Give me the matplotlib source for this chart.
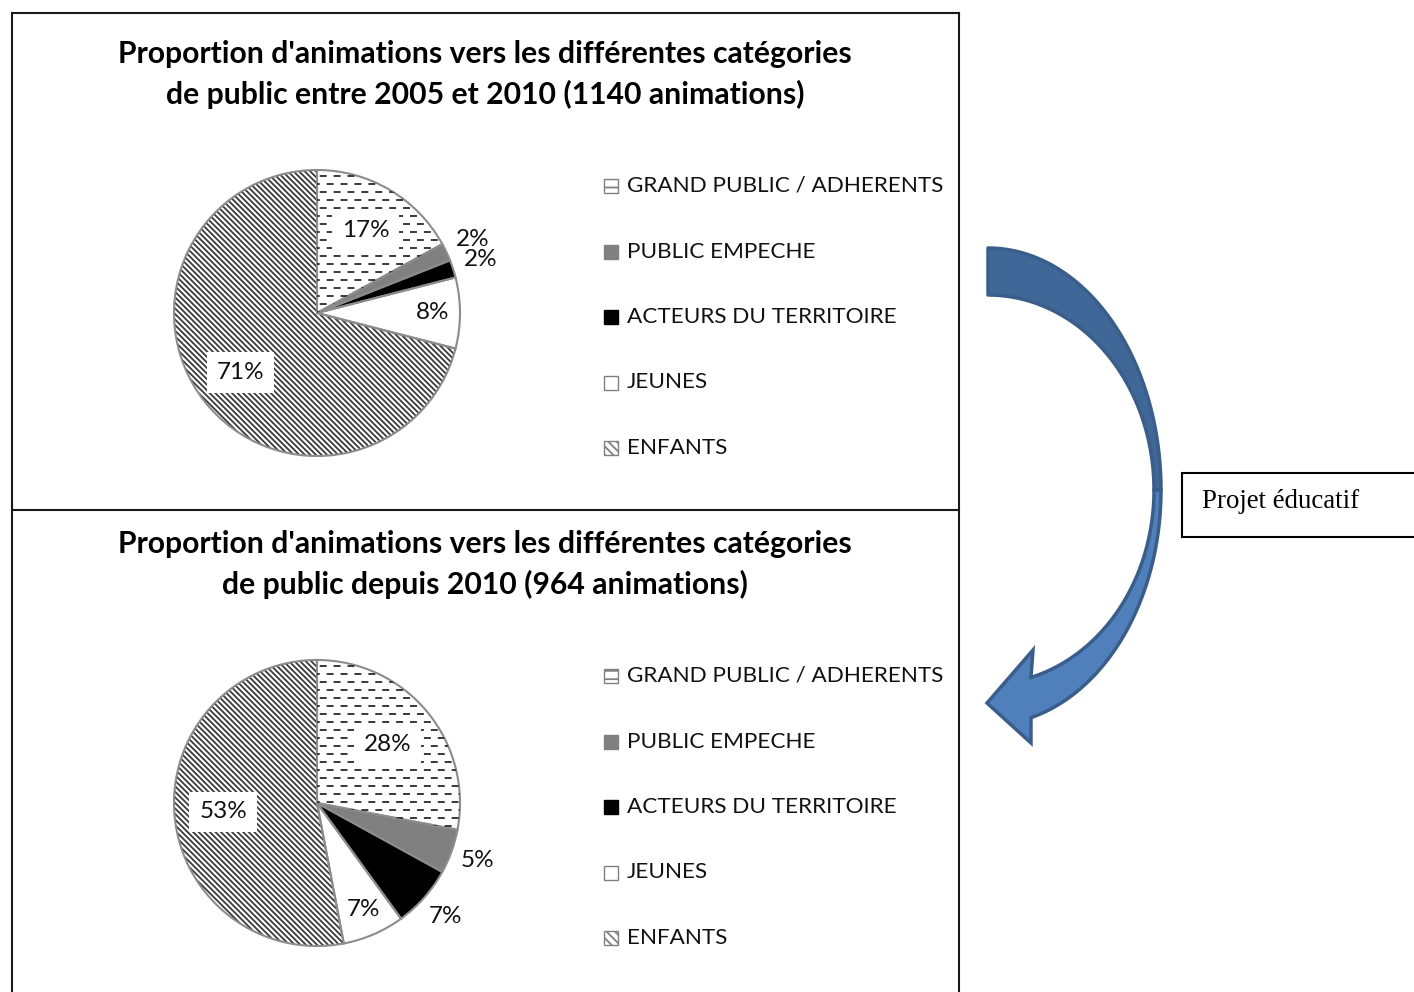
import numpy as np
import matplotlib
matplotlib.use("Agg")
import matplotlib.pyplot as plt
from matplotlib.patches import Rectangle, Polygon

# ---------------- data ----------------
categories = ["GRAND PUBLIC / ADHERENTS", "PUBLIC EMPECHE", "ACTEURS DU TERRITOIRE", "JEUNES", "ENFANTS"]
values_2005_2010 = [17, 2, 2, 8, 71]
values_2010 = [28, 5, 7, 7, 53]
title_top = ["Proportion d'animations vers les différentes catégories",
             "de public entre 2005 et 2010 (1140 animations)"]
title_bottom = ["Proportion d'animations vers les différentes catégories",
                "de public depuis 2010 (964 animations)"]
arrow_label = "Projet éducatif"

# ---------------- style ----------------
SANS = ["Lato", "DejaVu Sans"]
plt.rcParams["font.family"] = SANS
plt.rcParams["hatch.color"] = "#3a3a3a"
plt.rcParams["hatch.linewidth"] = 1.3
plt.rcParams["lines.scale_dashes"] = False

W, H = 1414, 992
fig = plt.figure(figsize=(W / 100, H / 100), dpi=100)

overlay = fig.add_axes([0, 0, 1, 1])
overlay.set_xlim(0, W)
overlay.set_ylim(H, 0)
overlay.axis("off")

face = ["white", "#808080", "black", "white", "white"]
DIAG = "\\" * 6
hatches = [None, None, None, None, DIAG]
legend_hatch = ["--", None, None, None, "\\" * 4]
patterned = [True, False, False, False, True]
edge_gray = "#8c8c8c"

# panel frames
for x in (12, 959):
    overlay.plot([x, x], [13, H + 5], color="#1a1a1a", lw=1.5)
for y in (13, 510):
    overlay.plot([12, 959], [y, y], color="#1a1a1a", lw=1.5)


def draw_panel(values, titles, cy, label_r):
    # titles
    overlay.text(485, cy - 259, titles[0], ha="center", va="center",
                 fontsize=21.7, fontweight="bold")
    overlay.text(485, cy - 219, titles[1], ha="center", va="center",
                 fontsize=21.7, fontweight="bold")
    # pie
    R = 143
    half = 1.25 * R
    ax = fig.add_axes([(317 - half) / W, 1 - (cy + half) / H, 2 * half / W, 2 * half / H])
    ax.axis("off")
    wedges, _ = ax.pie(values, startangle=90, counterclock=False, colors=face,
                       hatch=hatches, wedgeprops=dict(linewidth=0))
    ax.pie(values, startangle=90, counterclock=False,
           wedgeprops=dict(fill=False, edgecolor=edge_gray, linewidth=1.5))
    ax.set_xlim(-1.25, 1.25)
    ax.set_ylim(-1.25, 1.25)
    # dashed horizontal pattern for GRAND PUBLIC wedge
    ys = np.arange(-1.0, 1.0, 8.0 / R)
    for k, yy in enumerate(ys):
        ln, = ax.plot([-1.1, 1.1], [yy, yy], color="#383838", lw=1.4,
                      linestyle=((0 if k % 2 == 0 else 5.0), (5.0, 5.0)))
        ln.set_clip_path(wedges[0])
    # labels
    total = float(sum(values))
    cum = 0.0
    for v, r, pat in zip(values, label_r, patterned):
        mid = (cum + v / 2.0) / total * 2 * np.pi
        cum += v
        x, y = r * np.sin(mid), r * np.cos(mid)
        kw = {}
        if pat:
            kw["bbox"] = dict(facecolor="white", edgecolor="none", pad=7)
        ax.text(x, y, f"{v}%", ha="center", va="center", fontsize=17.5,
                color="#111111", clip_on=False, **kw)
    # legend (manual)
    y0 = cy - 127
    for i, cat in enumerate(categories):
        yy = y0 + i * 65.5
        overlay.add_patch(Rectangle((604, yy - 7), 14, 14, facecolor=face[i],
                                    hatch=legend_hatch[i],
                                    edgecolor=("#808080" if face[i] != "black" else "black"),
                                    lw=1))
        overlay.text(627, yy, cat, ha="left", va="center", fontsize=16.2, color="#111111")


draw_panel(values_2005_2010, title_top, 313, [0.67, 1.2, 1.2, 0.81, 0.68])
draw_panel(values_2010, title_bottom, 803, [0.64, 1.19, 1.2, 0.81, 0.66])

# ---------------- curved arrow (decoration) ----------------
cx, cyc = 988, 490
t_top = np.linspace(np.pi / 2, 0, 60)
outer_top = np.c_[cx + 173 * np.cos(t_top), cyc - 242 * np.sin(t_top)]
inner_top = np.c_[cx + 166 * np.cos(t_top[::-1]), cyc - 195 * np.sin(t_top[::-1])]
top_poly = np.vstack([outer_top, inner_top])
overlay.add_patch(Polygon(top_poly, closed=True, facecolor="#3f6797",
                          edgecolor="#3a5d8a", lw=2.5, joinstyle="round"))

t_end_o = np.arccos(43 / 173)
t_end_i = np.arccos(43 / 166)
to = np.linspace(0, t_end_o, 60)
ti = np.linspace(t_end_i, 0, 60)
outer_bot = np.c_[cx + 173 * np.cos(to), cyc + 235 * np.sin(to)]
inner_bot = np.c_[cx + 166 * np.cos(ti), cyc + 194 * np.sin(ti)]
head = np.array([[1031, 743], [987, 703], [1033, 650]])
bot_poly = np.vstack([outer_bot, head, inner_bot])
overlay.add_patch(Polygon(bot_poly, closed=True, facecolor="#4f80bb",
                          edgecolor="#3a5d8a", lw=2.5, joinstyle="miter"))

# text box
overlay.add_patch(Rectangle((1182, 473), 260, 64, facecolor="white",
                            edgecolor="black", lw=1.5, clip_on=False))
overlay.text(1202, 501, arrow_label, ha="left", va="center", fontsize=19.4,
             family=["Liberation Serif", "DejaVu Serif"])

fig.savefig("out.png", dpi=100)
